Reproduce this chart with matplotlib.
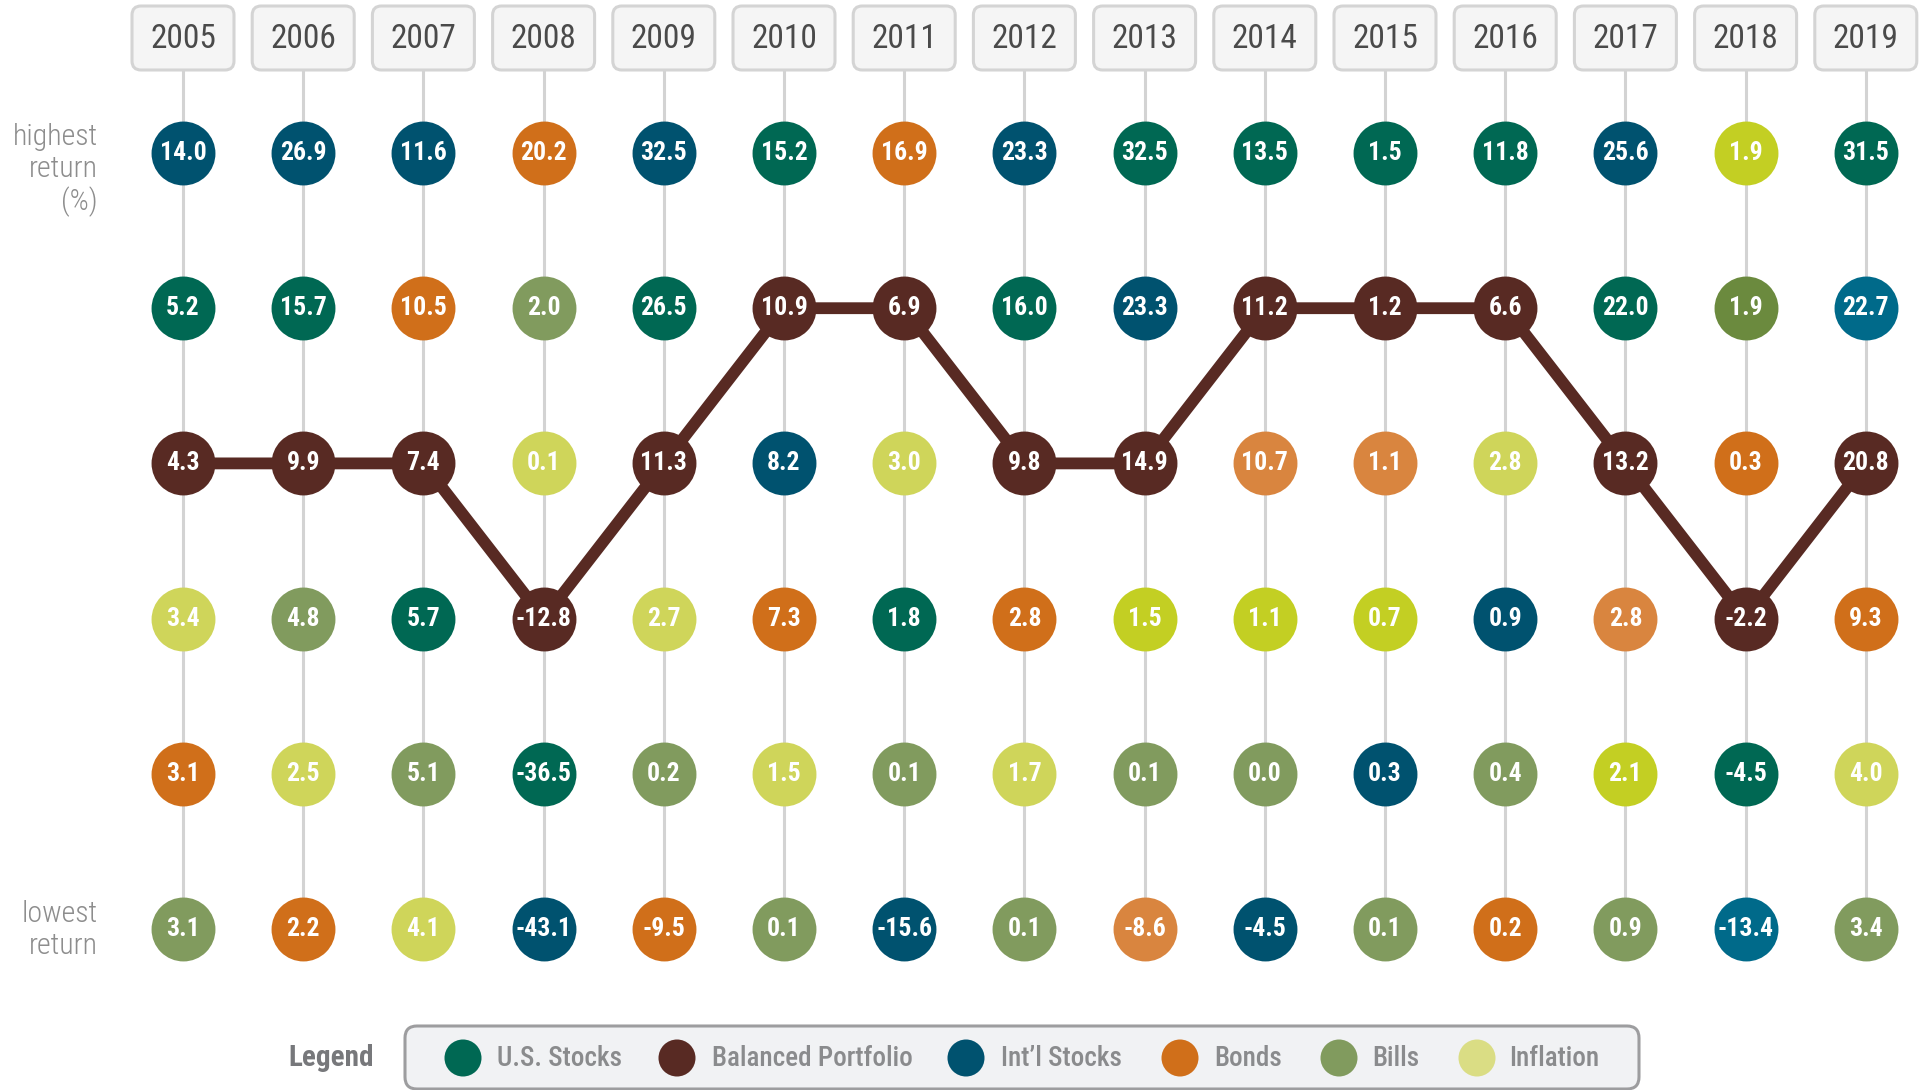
import matplotlib.pyplot as plt
from matplotlib.patches import FancyBboxPatch, Circle
from matplotlib.transforms import Affine2D

plt.rcParams["font.family"] = ["Liberation Sans Narrow", "Roboto Condensed", "Roboto", "DejaVu Sans"]

W, H = 1921, 1090

years = list(range(2005, 2020))

# returns by rank (1 = highest) and the asset class of each cell
rank1 = [14.0, 26.9, 11.6, 20.2, 32.5, 15.2, 16.9, 23.3, 32.5, 13.5, 1.5, 11.8, 25.6, 1.9, 31.5]
asset1 = ["intl", "intl", "intl", "bonds", "intl", "us", "bonds", "intl", "us", "us", "us", "us", "intl", "infl2", "us"]
rank2 = [5.2, 15.7, 10.5, 2.0, 26.5, 10.9, 6.9, 16.0, 23.3, 11.2, 1.2, 6.6, 22.0, 1.9, 22.7]
asset2 = ["us", "us", "bonds", "bills", "us", "bal", "bal", "us", "intl", "bal", "bal", "bal", "us", "bills2", "intl2"]
rank3 = [4.3, 9.9, 7.4, 0.1, 11.3, 8.2, 3.0, 9.8, 14.9, 10.7, 1.1, 2.8, 13.2, 0.3, 20.8]
asset3 = ["bal", "bal", "bal", "infl", "bal", "intl", "infl", "bal", "bal", "bonds2", "bonds2", "infl", "bal", "bonds", "bal"]
rank4 = [3.4, 4.8, 5.7, -12.8, 2.7, 7.3, 1.8, 2.8, 1.5, 1.1, 0.7, 0.9, 2.8, -2.2, 9.3]
asset4 = ["infl", "bills", "us", "bal", "infl", "bonds", "us", "bonds", "infl2", "infl2", "infl2", "intl", "bonds2", "bal", "bonds"]
rank5 = [3.1, 2.5, 5.1, -36.5, 0.2, 1.5, 0.1, 1.7, 0.1, 0.0, 0.3, 0.4, 2.1, -4.5, 4.0]
asset5 = ["bonds", "infl", "bills", "us", "bills", "infl", "bills", "infl", "bills", "bills", "intl", "bills", "infl2", "us", "infl"]
rank6 = [3.1, 2.2, 4.1, -43.1, -9.5, 0.1, -15.6, 0.1, -8.6, -4.5, 0.1, 0.2, 0.9, -13.4, 3.4]
asset6 = ["bills", "bonds", "infl", "intl", "bonds", "bills", "intl", "bills", "bonds2", "intl", "bills", "bonds", "bills", "intl2", "bills"]

rows = [rank1, rank2, rank3, rank4, rank5, rank6]
assets = [asset1, asset2, asset3, asset4, asset5, asset6]

colors = {
    "us": "#006853",
    "bal": "#582a23",
    "intl": "#00526f",
    "intl2": "#006a8a",
    "bonds": "#d06f1a",
    "bonds2": "#d9853f",
    "bills": "#819b5e",
    "bills2": "#6b8a3e",
    "infl": "#cfd55a",
    "infl2": "#c3cf23",
}

legend_names = ["U.S. Stocks", "Balanced Portfolio", "Int\u2019l Stocks", "Bonds", "Bills", "Inflation"]
legend_colors = ["#006853", "#582a23", "#00526f", "#d06f1a", "#819b5e", "#dadd84"]

fig = plt.figure(figsize=(W / 100, H / 100), dpi=100)
ax = fig.add_axes([0, 0, 1, 1])
ax.set_xlim(2005 - 183 / 120.2, 2005 + (W - 183) / 120.2)
ax.set_ylim(1 + (H - 153) / 155.2, 1 - 153 / 155.2)
ax.axis("off")

# pixel transform (origin top-left) for decorations
pix = Affine2D().scale(1 / W, -1 / H).translate(0, 1) + fig.transFigure

# vertical guide lines
top_y = 1 + (70 - 153) / 155.2
ax.vlines(years, top_y, 6, color="#d3d3d3", lw=2.2, zorder=1)

# year boxes
bw, bh = 102 / 120.2, 64 / 155.2
for yr in years:
    box = FancyBboxPatch((yr - bw / 2, top_y - bh), bw, bh,
                         boxstyle="round,pad=0,rounding_size=0.075",
                         mutation_aspect=120.2 / 155.2,
                         fc="#f5f5f5", ec="#d4d4d4", lw=2.2, zorder=2)
    ax.add_patch(box)
    ax.text(yr, top_y - bh / 2 + 0.005, str(yr), ha="center", va="center",
            fontsize=24, color="#4a4a4a", zorder=3)

# balanced portfolio path
bal_rank = [next(r + 1 for r in range(6) if assets[r][i] == "bal") for i in range(len(years))]
ax.plot(years, bal_rank, color="#582a23", lw=8.5, solid_capstyle="round", zorder=3)

# circles
for r in range(6):
    for i, yr in enumerate(years):
        ax.scatter(yr, r + 1, s=46 ** 2, color=colors[assets[r][i]], lw=0, zorder=4)
        ax.text(yr, r + 1, f"{rows[r][i]:.1f}", ha="center", va="center",
                fontsize=18.5, fontweight="semibold", color="white", zorder=5)

# side labels
for txt, y in [("highest", 137), ("return", 169), ("(%)", 202), ("lowest", 914), ("return", 946)]:
    fig.text(98, y, txt, transform=pix, ha="right", va="center", fontsize=21.5,
             fontweight="light", color="#8d8d8d")

# legend
fig.patches.append(FancyBboxPatch((405, 1026), 1234, 63, boxstyle="round,pad=0,rounding_size=12",
                                  transform=pix, fc="#f1f2f4", ec="#9d9d9f", lw=2.2, figure=fig))
fig.text(331, 1058, "Legend", transform=pix, ha="center", va="center", fontsize=21,
         fontweight="semibold", color="#77787b")
cx = [463, 677, 966, 1180, 1339, 1477]
tx = [497, 712, 1001, 1214, 1372, 1509]
for c, t, name, col in zip(cx, tx, legend_names, legend_colors):
    fig.patches.append(Circle((c, 1058), 18.5, transform=pix, fc=col, ec="none", figure=fig))
    fig.text(t, 1058, name, transform=pix, ha="left", va="center", fontsize=19.5,
             fontweight="medium", color="#8a8b8d")

fig.savefig("out.png", dpi=100)
